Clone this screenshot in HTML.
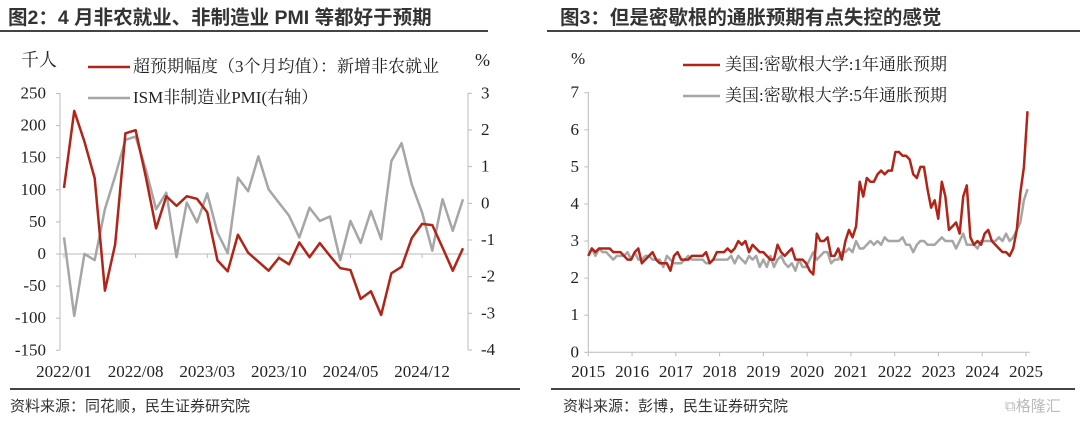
<!DOCTYPE html>
<html><head><meta charset="utf-8">
<style>
body{margin:0;background:#fff;}
svg{display:block;font-family:"Liberation Serif","Noto Serif CJK SC",serif;}
.t{font-family:"Liberation Sans","Noto Sans CJK SC",sans-serif;font-weight:bold;font-size:19.5px;fill:#333;}
.f{font-family:"Liberation Sans","Noto Sans CJK SC",sans-serif;font-size:15px;fill:#333;}
.tk{font-size:17px;fill:#222;}
.lg{font-size:17px;fill:#222;}
</style></head>
<body>
<svg id="s" width="1080" height="423" viewBox="0 0 1080 423">
<text class="t" x="8" y="24">图2：4 月非农就业、非制造业 PMI 等都好于预期</text>
<line x1="0" y1="31" x2="488" y2="31" stroke="#444" stroke-width="2"/>
<text class="t" x="560" y="24">图3：但是密歇根的通胀预期有点失控的感觉</text>
<line x1="547" y1="31" x2="1080" y2="31" stroke="#444" stroke-width="2"/>
<line x1="10" y1="389" x2="520" y2="389" stroke="#444" stroke-width="2"/>
<line x1="551" y1="389" x2="1075" y2="389" stroke="#444" stroke-width="2"/>
<text class="f" x="10" y="411">资料来源：同花顺，民生证券研究院</text>
<text class="f" x="563" y="411">资料来源：彭博，民生证券研究院</text>
<text class="f" x="1005" y="411" style="fill:#bbb">⧉格隆汇</text>
<g id="left"></g>
<g id="right"></g>
</svg>
<script>
const leftCats=["2022/01","2022/08","2023/03","2023/10","2024/05","2024/12"];
const leftYTicks=[250,200,150,100,50,0,-50,-100,-150];
const leftY2Ticks=[3,2,1,0,-1,-2,-3,-4];
const payrollSurprise=[103,223,175,118,-57,15,188,193,120,40,90,75,90,86,65,-10,-27,30,2,-12,-26,-6,-16,18,-5,17,-3,-22,-25,-70,-58,-95,-30,-20,25,47,45,10,-26,9];
const ismServices=[-0.93,-3.07,-1.38,-1.55,-0.16,0.74,1.73,1.82,0.92,-0.16,0.29,-1.47,0.02,-0.52,0.27,-0.8,-1.36,0.7,0.33,1.28,0.38,0.02,-0.34,-0.93,-0.12,-0.48,-0.36,-1.55,-0.48,-1.08,-0.21,-0.98,1.15,1.64,0.51,-0.25,-1.29,0.11,-0.75,0.11];

const rightYears=[2015,2016,2017,2018,2019,2020,2021,2022,2023,2024,2025];
const rightYTicks=[0,1,2,3,4,5,6,7];
const infl1y=[2.6,2.8,2.7,2.8,2.8,2.8,2.8,2.7,2.7,2.7,2.6,2.5,
2.5,2.7,2.8,2.4,2.5,2.6,2.7,2.5,2.4,2.4,2.4,2.2,
2.6,2.7,2.5,2.5,2.5,2.6,2.6,2.6,2.6,2.7,2.4,2.5,
2.7,2.7,2.7,2.8,2.7,2.8,3.0,2.9,3.0,2.7,2.9,2.8,
2.7,2.7,2.6,2.5,2.5,2.9,2.7,2.6,2.7,2.8,2.5,2.5,
2.5,2.4,2.2,2.1,3.2,3.0,3.0,3.1,2.6,2.6,2.8,2.5,
3.0,3.3,3.1,3.4,4.6,4.2,4.7,4.6,4.6,4.8,4.9,4.8,
4.9,4.9,5.4,5.4,5.3,5.3,5.2,4.8,4.7,5.0,5.0,4.4,
3.9,4.1,3.6,4.6,4.2,3.3,3.4,3.5,3.2,4.2,4.5,3.1,
2.9,3.0,2.9,3.2,3.3,3.0,2.9,2.8,2.7,2.7,2.6,2.8,
3.3,4.3,5.0,6.5];
const infl5y=[2.6,2.8,2.6,2.8,2.7,2.7,2.6,2.5,2.6,2.6,2.6,2.7,
2.5,2.7,2.5,2.5,2.6,2.6,2.5,2.5,2.5,2.3,2.6,2.5,
2.4,2.4,2.4,2.5,2.6,2.5,2.5,2.5,2.5,2.4,2.4,2.5,
2.5,2.5,2.5,2.5,2.6,2.4,2.6,2.5,2.4,2.6,2.5,2.6,
2.3,2.5,2.3,2.6,2.3,2.5,2.6,2.4,2.3,2.4,2.2,2.5,
2.3,2.3,2.5,2.7,2.5,2.6,2.7,2.7,2.4,2.5,2.5,2.7,
2.7,2.8,2.7,3.0,2.8,2.8,2.9,3.0,2.9,3.0,2.9,3.1,
3.0,3.0,3.0,3.0,3.1,2.9,2.9,2.7,2.9,3.0,3.0,2.9,
2.9,2.9,3.0,3.1,3.0,3.0,3.0,2.8,3.0,3.2,2.9,2.9,
2.9,2.8,3.0,3.0,3.0,3.0,3.0,3.1,3.0,3.2,3.0,3.1,
3.3,3.5,4.1,4.4];

const NS="http://www.w3.org/2000/svg";
function mk(parent,tag,attrs,text){const e=document.createElementNS(NS,tag);for(const k in attrs)e.setAttribute(k,attrs[k]);if(text!==undefined)e.textContent=text;parent.appendChild(e);return e;}

// LEFT CHART
(function(){
const g=document.getElementById('left');
const X0=64,X1=463,AX=60,AX2=468;
const yL=v=>254+(0-v)*(256.7/400);
const yR=v=>93.3+(3-v)*(256.7/7);
const n=payrollSurprise.length;
const x=i=>X0+i*(X1-X0)/(n-1);
let e;
e=mk(g,'line',{x1:AX,y1:93,x2:AX,y2:350,stroke:'#bbb','stroke-width':1});

e=mk(g,'line',{x1:AX2,y1:93,x2:AX2,y2:350,stroke:'#bbb','stroke-width':1});

e=mk(g,'line',{x1:AX,y1:yL(0),x2:AX2,y2:yL(0),stroke:'#bbb','stroke-width':1});

leftYTicks.forEach(v=>{
 e=mk(g,'line',{x1:AX-4,y1:yL(v),x2:AX,y2:yL(v),stroke:'#bbb'});
 
 e=mk(g,'text',{x:46,y:yL(v)+5,'text-anchor':'end',class:'tk'},String(v));
 
});
leftY2Ticks.forEach(v=>{
 e=mk(g,'line',{x1:AX2,y1:yR(v),x2:AX2+4,y2:yR(v),stroke:'#bbb'});
 
 e=mk(g,'text',{x:481,y:yR(v)+5,'text-anchor':'start',class:'tk'},String(v));
 
});
leftCats.forEach((c,k)=>{
 const i=k*7;
 e=mk(g,'line',{x1:x(i),y1:yL(0),x2:x(i),y2:yL(0)+4,stroke:'#bbb'});
 
 e=mk(g,'text',{x:x(i),y:377,'text-anchor':'middle',class:'tk'},c);
 
});
e=mk(g,'text',{x:21,y:66,class:'lg',style:'font-size:18px'},'千人');

e=mk(g,'text',{x:475,y:66,class:'lg',style:'font-size:18px'},'%');

e=mk(g,'polyline',{points:ismServices.map((v,i)=>x(i)+','+yR(v)).join(' '),fill:'none',stroke:'#a6a6a6','stroke-width':2.5,'stroke-linejoin':'round'});

e=mk(g,'polyline',{points:payrollSurprise.map((v,i)=>x(i)+','+yL(v)).join(' '),fill:'none',stroke:'#b22418','stroke-width':2.5,'stroke-linejoin':'round'});

e=mk(g,'line',{x1:88,y1:67,x2:130,y2:67,stroke:'#b22418','stroke-width':2.5});

e=mk(g,'text',{x:133,y:72,class:'lg'},'超预期幅度（3个月均值）：新增非农就业');

e=mk(g,'line',{x1:88,y1:98,x2:130,y2:98,stroke:'#a6a6a6','stroke-width':2.5});

e=mk(g,'text',{x:133,y:103,class:'lg'},'ISM非制造业PMI(右轴）');

})();

// RIGHT CHART
(function(){
const g=document.getElementById('right');
const AX=588.3,XR=1027.5;
const y=v=>352.3-v*(259.6/7);
const yrX=yr=>AX+(yr-2015)*43.77;
const n=infl1y.length;
const x=i=>AX+i*(XR-AX)/(n-1);
let e;
e=mk(g,'line',{x1:AX,y1:92,x2:AX,y2:y(0),stroke:'#bbb'});

e=mk(g,'line',{x1:AX,y1:y(0),x2:1030,y2:y(0),stroke:'#bbb'});

rightYTicks.forEach(v=>{
 e=mk(g,'line',{x1:AX-4,y1:y(v),x2:AX,y2:y(v),stroke:'#bbb'});
 
 e=mk(g,'text',{x:579,y:y(v)+5,'text-anchor':'end',class:'tk'},String(v));
 
});
rightYears.forEach(yr=>{
 e=mk(g,'line',{x1:yrX(yr),y1:y(0),x2:yrX(yr),y2:y(0)+4,stroke:'#bbb'});
 
 e=mk(g,'text',{x:yrX(yr),y:377,'text-anchor':'middle',class:'tk'},String(yr));
 
});
e=mk(g,'text',{x:571,y:64,class:'lg',style:'font-size:17px'},'%');

e=mk(g,'polyline',{points:infl5y.map((v,i)=>x(i)+','+y(v)).join(' '),fill:'none',stroke:'#a6a6a6','stroke-width':2.5,'stroke-linejoin':'round'});

e=mk(g,'polyline',{points:infl1y.map((v,i)=>x(i)+','+y(v)).join(' '),fill:'none',stroke:'#b22418','stroke-width':2.5,'stroke-linejoin':'round'});

e=mk(g,'line',{x1:683,y1:65,x2:720,y2:65,stroke:'#b22418','stroke-width':2.5});

e=mk(g,'text',{x:725,y:70,class:'lg'},'美国:密歇根大学:1年通胀预期');

e=mk(g,'line',{x1:683,y1:96,x2:720,y2:96,stroke:'#a6a6a6','stroke-width':2.5});

e=mk(g,'text',{x:725,y:101,class:'lg'},'美国:密歇根大学:5年通胀预期');

})();
</script>
</body></html>
